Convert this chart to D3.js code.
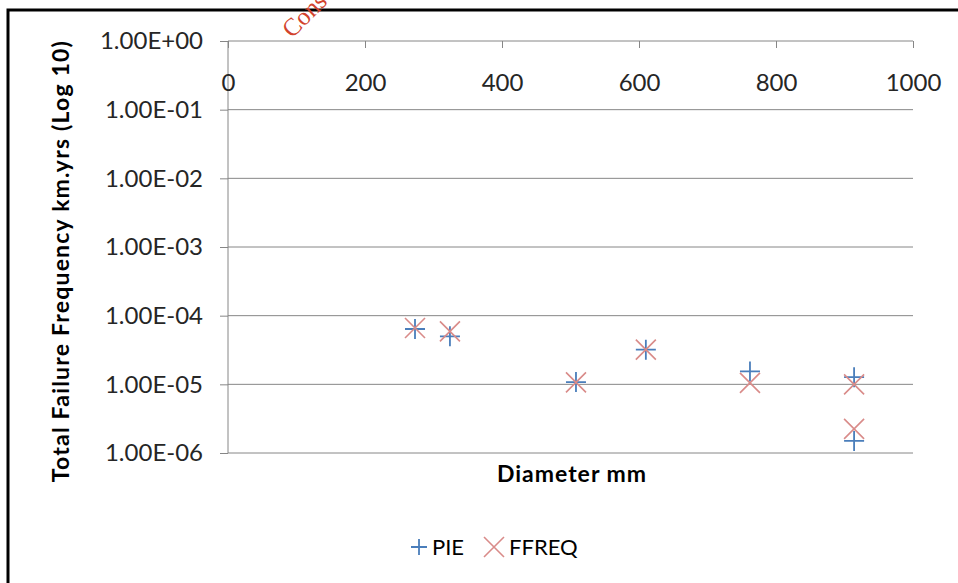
<!DOCTYPE html>
<html>
<head>
    <meta charset="utf-8">
    <script src="https://d3js.org/d3.v7.min.js"></script>
    <style>
        body { margin: 0; background: white; }
        .axis text { font-family: Lato, sans-serif; font-size: 24px; fill: #262626; }
        .axis line { stroke: #868686; }
        .axis path { display: none; }
        .grid { stroke: #868686; stroke-width: 1px; }
        .title { font-family: Lato, sans-serif; font-weight: bold; font-size: 23px; fill: black; }
        .legend { font-family: Lato, sans-serif; font-size: 22px; fill: black; }
    </style>
</head>
<body>
<script>
    // diameters (mm) and failure frequencies
    let diameter = [273, 324, 508, 610, 762, 914, 914];
    let pie      = [6.4e-5, 5.0e-5, 1.08e-5, 3.2e-5, 1.54e-5, 1.27e-5, 1.5e-6];
    let ffreq    = [6.6e-5, 5.9e-5, 1.07e-5, 3.2e-5, 1.05e-5, 1.0e-5, 2.25e-6];
    let x_ticks  = [0, 200, 400, 600, 800, 1000];
    let y_ticks  = [1, 1e-1, 1e-2, 1e-3, 1e-4, 1e-5, 1e-6];

    let width = 958, height = 583;
    let plot_left = 228, plot_right = 913, plot_top = 41, plot_bottom = 453;

    let svg = d3.select("body").append("svg")
        .attr("width", width)
        .attr("height", height);

    // frame round the figure
    svg.append("path")
        .attr("d", "M8," + height + " L8,10 L" + width + ",10")
        .attr("fill", "none")
        .attr("stroke", "black")
        .attr("stroke-width", 3);

    // watermark, only its start shows
    svg.append("text")
        .text("Cons")
        .attr("transform", "translate(292,39) rotate(-45)")
        .attr("font-family", "Liberation Serif, serif")
        .attr("font-size", 25)
        .attr("fill", "#d2432d");

    let x_scale = d3.scaleLinear().domain([0, 1000]).range([plot_left, plot_right]);
    let y_scale = d3.scaleLog().domain([1e-6, 1]).range([plot_bottom, plot_top]);

    svg.selectAll("line.grid")
        .data(y_ticks)
        .join("line")
        .attr("class", "grid")
        .attr("x1", plot_left).attr("x2", plot_right)
        .attr("y1", d => y_scale(d)).attr("y2", d => y_scale(d));

    svg.append("line")
        .attr("class", "grid")
        .attr("x1", plot_left).attr("x2", plot_left)
        .attr("y1", plot_top).attr("y2", plot_bottom);

    let x_axis = d3.axisBottom(x_scale)
        .tickValues(x_ticks)
        .tickSize(7)
        .tickPadding(26)
        .tickFormat(d3.format("d"));
    svg.append("g")
        .attr("class", "x axis")
        .attr("transform", "translate(0," + plot_top + ")")
        .call(x_axis);

    let fmt = d => {
        let e = Math.round(Math.log10(d));
        return "1.00E" + (e < 0 ? "-" : "+") + String(Math.abs(e)).padStart(2, "0");
    };
    let y_axis = d3.axisLeft(y_scale)
        .tickValues(y_ticks)
        .tickSize(8)
        .tickPadding(17)
        .tickFormat(fmt);
    svg.append("g")
        .attr("class", "y axis")
        .attr("transform", "translate(" + plot_left + ",0)")
        .call(y_axis);

    let plus = s => "M" + (-s) + ",0H" + s + "M0," + (-s) + "V" + s;
    let cross = s => "M" + (-s) + "," + (-s) + "L" + s + "," + s + "M" + (-s) + "," + s + "L" + s + "," + (-s);

    svg.append("g").selectAll("path")
        .data(diameter.map((d, i) => [d, pie[i]]))
        .join("path")
        .attr("d", plus(10))
        .attr("transform", d => "translate(" + x_scale(d[0]) + "," + y_scale(d[1]) + ")")
        .attr("fill", "none")
        .attr("stroke", "#4a7ebb")
        .attr("stroke-width", 1.8);

    svg.append("g").selectAll("path")
        .data(diameter.map((d, i) => [d, ffreq[i]]))
        .join("path")
        .attr("d", cross(10))
        .attr("transform", d => "translate(" + x_scale(d[0]) + "," + y_scale(d[1]) + ")")
        .attr("fill", "none")
        .attr("stroke", "#d98b89")
        .attr("stroke-width", 1.6);

    svg.append("text")
        .attr("class", "title")
        .text("Diameter mm")
        .attr("x", 572)
        .attr("y", 482)
        .attr("letter-spacing", 1)
        .attr("text-anchor", "middle");

    svg.append("text")
        .attr("class", "title")
        .text("Total Failure Frequency km.yrs (Log 10)")
        .attr("transform", "translate(69,261) rotate(-90)")
        .attr("letter-spacing", 1.2)
        .attr("text-anchor", "middle");

    // legend
    svg.append("path")
        .attr("d", plus(8))
        .attr("transform", "translate(419,547)")
        .attr("fill", "none")
        .attr("stroke", "#4a7ebb")
        .attr("stroke-width", 1.8);
    svg.append("text").attr("class", "legend").text("PIE")
        .attr("x", 432).attr("y", 555);
    svg.append("path")
        .attr("d", cross(10))
        .attr("transform", "translate(494,547)")
        .attr("fill", "none")
        .attr("stroke", "#d98b89")
        .attr("stroke-width", 1.6);
    svg.append("text").attr("class", "legend").text("FFREQ")
        .attr("x", 509).attr("y", 555);
</script>
</body>
</html>
